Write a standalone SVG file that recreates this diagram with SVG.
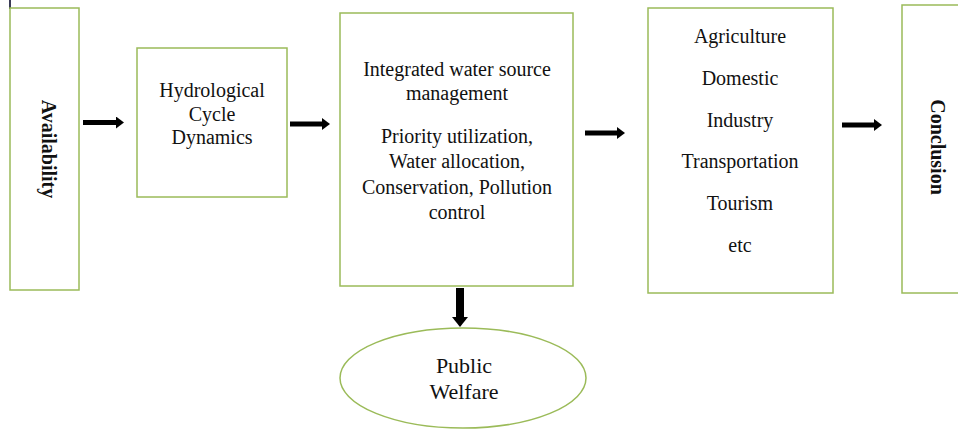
<svg xmlns="http://www.w3.org/2000/svg" width="958" height="430" viewBox="0 0 958 430">
  <style>
    .box { fill: #ffffff; stroke: #9bbb59; stroke-width: 1.5; }
    .t { font-family: 'Liberation Serif', Tinos, 'Times New Roman', 'DejaVu Serif', serif; font-size: 20px; fill: #111111; text-anchor: middle; }
    .b { font-weight: bold; }
    .conn { stroke: #000000; fill: none; }
  </style>
  <defs>
    <marker id="headH" markerUnits="userSpaceOnUse" markerWidth="8" markerHeight="12" refX="0" refY="6" orient="auto">
      <path d="M0,0 L8,6 L0,12 z" fill="#000000"/>
    </marker>
    <marker id="headV" markerUnits="userSpaceOnUse" markerWidth="10" markerHeight="16" refX="0" refY="8" orient="auto">
      <path d="M0,0 L10,8 L0,16 z" fill="#000000"/>
    </marker>
  </defs>
  <rect width="958" height="430" fill="#ffffff"/>
  <rect x="9" y="0" width="2" height="9" fill="#3a3a55"/>

  <g id="availability">
    <rect class="box" x="10" y="8" width="69" height="282"/>
    <text class="t b" font-family="Liberation Serif, serif" transform="translate(48,149) rotate(90)" x="0" y="6">Availability</text>
  </g>

  <g id="hydrological">
    <rect class="box" x="137" y="48" width="150" height="149"/>
    <text class="t" font-family="Liberation Serif, serif" x="212" y="97">Hydrological</text>
    <text class="t" font-family="Liberation Serif, serif" x="212" y="120.5">Cycle</text>
    <text class="t" font-family="Liberation Serif, serif" x="212" y="144">Dynamics</text>
  </g>

  <g id="iwrm">
    <rect class="box" x="340" y="13" width="233" height="273"/>
    <text class="t" font-family="Liberation Serif, serif" x="457" y="76">Integrated water source</text>
    <text class="t" font-family="Liberation Serif, serif" x="457" y="100">management</text>
    <text class="t" font-family="Liberation Serif, serif" x="457" y="143">Priority utilization,</text>
    <text class="t" font-family="Liberation Serif, serif" x="457" y="168">Water allocation,</text>
    <text class="t" font-family="Liberation Serif, serif" x="457" y="194">Conservation, Pollution</text>
    <text class="t" font-family="Liberation Serif, serif" x="457" y="219">control</text>
  </g>

  <g id="uses">
    <rect class="box" x="648" y="8" width="185" height="285"/>
    <text class="t" font-family="Liberation Serif, serif" x="740" y="43">Agriculture</text>
    <text class="t" font-family="Liberation Serif, serif" x="740" y="84.8">Domestic</text>
    <text class="t" font-family="Liberation Serif, serif" x="740" y="126.6">Industry</text>
    <text class="t" font-family="Liberation Serif, serif" x="740" y="168.4">Transportation</text>
    <text class="t" font-family="Liberation Serif, serif" x="740" y="210.2">Tourism</text>
    <text class="t" font-family="Liberation Serif, serif" x="740" y="252">etc</text>
  </g>

  <g id="conclusion">
    <rect class="box" x="902" y="5" width="70" height="288"/>
    <text class="t b" font-family="Liberation Serif, serif" transform="translate(937,147) rotate(90)" x="0" y="6">Conclusion</text>
  </g>

  <g id="welfare">
    <ellipse class="box" cx="463" cy="378" rx="123" ry="50"/>
    <text class="t" font-family="Liberation Serif, serif" style="font-size:22px" x="464" y="373">Public</text>
    <text class="t" font-family="Liberation Serif, serif" style="font-size:22px" x="464" y="399">Welfare</text>
  </g>

  <g id="connectors">
    <line class="conn" x1="83" y1="122.5" x2="116" y2="122.5" stroke-width="5" marker-end="url(#headH)"/>
    <line class="conn" x1="290" y1="124" x2="322" y2="124" stroke-width="5" marker-end="url(#headH)"/>
    <line class="conn" x1="585" y1="133" x2="617" y2="133" stroke-width="5" marker-end="url(#headH)"/>
    <line class="conn" x1="842" y1="125" x2="874" y2="125" stroke-width="5" marker-end="url(#headH)"/>
    <line class="conn" x1="460" y1="288" x2="460" y2="317" stroke-width="8" marker-end="url(#headV)"/>
  </g>
</svg>
